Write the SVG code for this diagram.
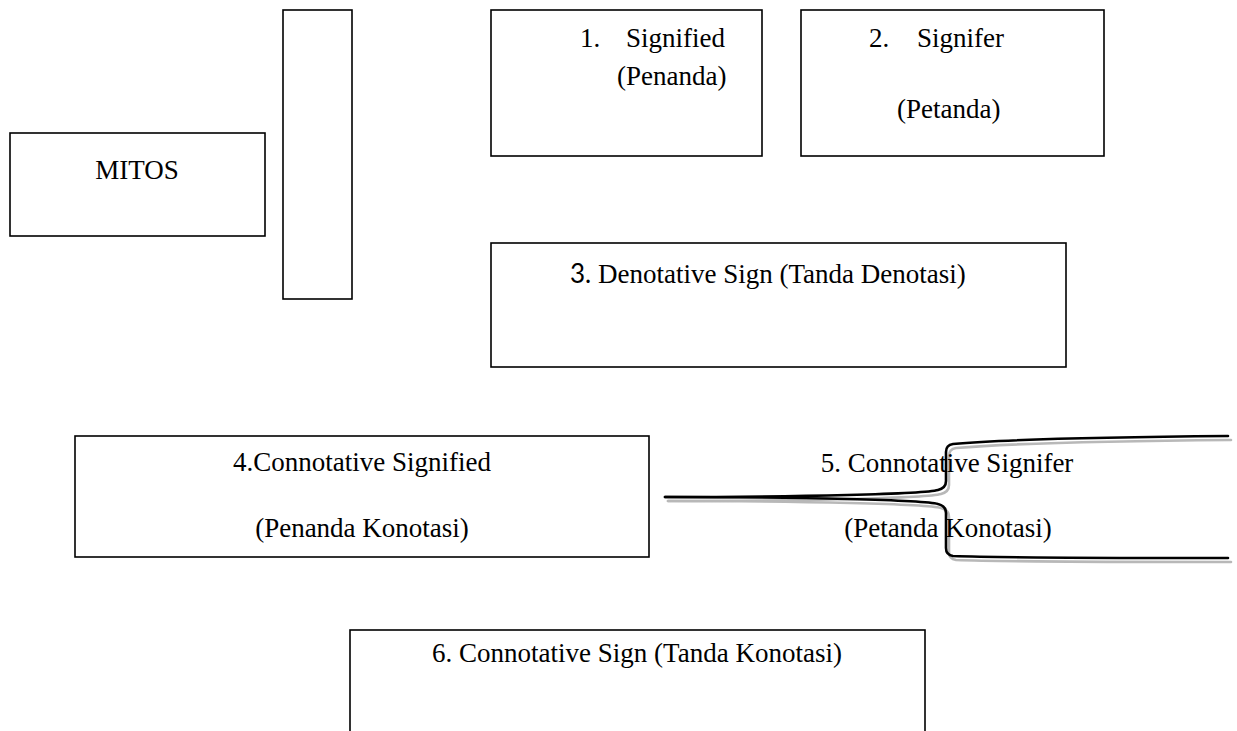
<svg xmlns="http://www.w3.org/2000/svg" width="1237" height="731" viewBox="0 0 1237 731">
<style>
.box{fill:#ffffff;stroke:#000000;stroke-width:1.6}
.t{font-family:"Liberation Serif","Times New Roman",serif;font-size:27px;fill:#000000}
.s{font-family:Lato,"Liberation Sans",sans-serif;font-size:26px}
.c{text-anchor:middle}
.brace{fill:none;stroke:#000000;stroke-width:2.6;stroke-linecap:round;stroke-linejoin:round}
.shadow{fill:none;stroke:#b8b8b8;stroke-width:2.6;stroke-linecap:round;stroke-linejoin:round}
</style>
<rect width="1237" height="731" fill="#ffffff"/>
<g id="mitos">
<rect class="box" x="10" y="133" width="255" height="103"/>
<text class="t c" x="137" y="179">MITOS</text>
</g>
<g id="bar">
<rect class="box" x="283" y="10" width="69" height="289"/>
</g>
<g id="signified">
<rect class="box" x="491" y="10" width="271" height="146"/>
<text class="t" x="580" y="47">1.</text>
<text class="t" x="626" y="47">Signified</text>
<text class="t" x="617" y="85">(Penanda)</text>
</g>
<g id="signifer">
<rect class="box" x="801" y="10" width="303" height="146"/>
<text class="t" x="869" y="47">2.</text>
<text class="t" x="917" y="47">Signifer</text>
<text class="t" x="897" y="118">(Petanda)</text>
</g>
<g id="denotative-sign">
<rect class="box" x="491" y="243" width="575" height="124"/>
<text class="t" x="570" y="283"><tspan class="s">3.</tspan> Denotative Sign (Tanda Denotasi)</text>
</g>
<g id="connotative-signified">
<rect class="box" x="75" y="436" width="574" height="121"/>
<text class="t c" x="362" y="471">4.Connotative Signified</text>
<text class="t c" x="362" y="537">(Penanda Konotasi)</text>
</g>
<g id="connectors">
<g transform="translate(3,4)">
<path class="shadow" d="M665 497 C800 497 925 494 938 490 Q946 488 946 481 L946 452 Q946 445 953 444 C1010 439 1110 437 1228 436"/>
<path class="shadow" d="M665 497 C800 497 925 500 938 504 Q946 506 946 513 L946 548 Q946 555 953 556 C1010 558 1110 558 1228 558"/>
</g>
<path class="brace" d="M665 497 C800 497 925 494 938 490 Q946 488 946 481 L946 452 Q946 445 953 444 C1010 439 1110 437 1228 436"/>
<path class="brace" d="M665 497 C800 497 925 500 938 504 Q946 506 946 513 L946 548 Q946 555 953 556 C1010 558 1110 558 1228 558"/>
</g>
<g id="connotative-signifer">
<text class="t c" x="947" y="472">5. Connotative Signifer</text>
<text class="t c" x="948" y="537">(Petanda Konotasi)</text>
</g>
<g id="connotative-sign">
<rect class="box" x="350" y="630" width="575" height="120"/>
<text class="t c" x="637" y="662">6. Connotative Sign (Tanda Konotasi)</text>
</g>
</svg>
